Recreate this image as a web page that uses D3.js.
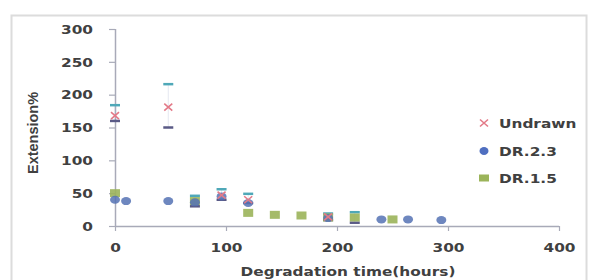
<!DOCTYPE html>
<html>
<head>
<meta charset="UTF-8">
<script src="https://d3js.org/d3.v7.min.js"></script>
<style>
    body { margin: 0; background: #fff; }
    text { font-family: "DejaVu Sans", Verdana, sans-serif; font-weight: bold; fill: #404040; }
</style>
</head>
<body>
<svg width="589" height="280"></svg>
<script>
// values
const xTicks = [0, 100, 200, 300, 400];
const yTicks = [0, 50, 100, 150, 200, 250, 300];

const undrawnX = [0, 48, 96, 120, 192];
const undrawnY = [168, 181, 47, 40, 14];

const dr23X = [0, 10, 48, 72, 96, 120, 192, 240, 264, 294];
const dr23Y = [40, 38, 38, 36, 45, 35, 12, 10, 10, 9];

const dr15X = [0, 72, 120, 144, 168, 192, 216, 250];
const dr15Y = [50, 38, 20, 17, 16, 13, 13, 10];

// error bar caps
const errX  = [0, 48, 72, 96, 120, 192, 216];
const errHi = [184, 216, 46, 56, 49, 19, 21];
const errLo = [160, 150, 30, 40, 35, 9, 5];

const legendNames = ["Undrawn", "DR.2.3", "DR.1.5"];

const svg = d3.select("svg");
const stretch = 1.18;

// outer frame
svg.append("rect")
    .attr("x", 11.5).attr("y", 15.5)
    .attr("width", 575).attr("height", 280)
    .attr("fill", "none").attr("stroke", "#dcdcdc").attr("stroke-width", 2);

const x = d3.scaleLinear().domain([0, 400]).range([115, 559]);
const y = d3.scaleLinear().domain([0, 300]).range([226, 29]);

function widen(sel) {
    sel.each(function () {
        const w = this.getComputedTextLength();
        d3.select(this).attr("textLength", w * stretch).attr("lengthAdjust", "spacingAndGlyphs");
    });
}

const xAxis = svg.append("g")
    .attr("transform", `translate(0,${y(0)})`)
    .call(d3.axisBottom(x).tickValues(xTicks).tickSize(5).tickPadding(12));
const yAxis = svg.append("g")
    .attr("transform", `translate(${x(0)},0)`)
    .call(d3.axisLeft(y).tickValues(yTicks).tickSize(6).tickPadding(16));

[xAxis, yAxis].forEach(a => {
    a.select(".domain").attr("stroke", "#a8aab8").attr("stroke-width", 1.5);
    a.selectAll(".tick line").attr("stroke", "#a8aab8").attr("stroke-width", 1.2);
    a.selectAll(".tick text").attr("font-size", 13).attr("fill", "#404040")
        .style("font-family", "DejaVu Sans").style("font-weight", "bold");
    widen(a.selectAll(".tick text"));
});
yAxis.select(".domain").attr("d", `M0.5,${y(300)}V${y(0)}`);
xAxis.select(".domain").attr("d", `M${x(0)},0.5H${x(400)}`);

// axis titles
const xt = svg.append("text")
    .attr("x", 348).attr("y", 276)
    .attr("text-anchor", "middle")
    .attr("font-size", 13)
    .text("Degradation time(hours)");
widen(xt);

svg.append("text")
    .attr("transform", `translate(38,133) rotate(-90)`)
    .attr("text-anchor", "middle")
    .attr("font-size", 14)
    .style("font-family", "Liberation Sans")
    .attr("textLength", 82).attr("lengthAdjust", "spacingAndGlyphs")
    .text("Extension%");

const plot = svg.append("g");

// error bars
const errs = errX.map((h, i) => ({ h, hi: errHi[i], lo: errLo[i] }));
plot.selectAll(".ebar").data(errs).enter().append("line")
    .attr("x1", d => x(d.h)).attr("x2", d => x(d.h))
    .attr("y1", d => y(d.hi)).attr("y2", d => y(d.lo))
    .attr("stroke", "#b8c0d8").attr("stroke-width", 1).attr("opacity", 0.35);
plot.selectAll(".capHi").data(errs).enter().append("line")
    .attr("x1", d => x(d.h) - 5).attr("x2", d => x(d.h) + 5)
    .attr("y1", d => y(d.hi)).attr("y2", d => y(d.hi))
    .attr("stroke", "#4fa8b8").attr("stroke-width", 2.5);
plot.selectAll(".capLo").data(errs).enter().append("line")
    .attr("x1", d => x(d.h) - 5).attr("x2", d => x(d.h) + 5)
    .attr("y1", d => y(d.lo)).attr("y2", d => y(d.lo))
    .attr("stroke", "#5a5a86").attr("stroke-width", 2.5);

// DR.1.5 squares
const dr15 = dr15X.map((h, i) => ({ h, v: dr15Y[i] }));
plot.selectAll(".sq").data(dr15).enter().append("rect")
    .attr("x", d => x(d.h) - 5).attr("y", d => y(d.v) - 4)
    .attr("width", 10).attr("height", 8)
    .attr("fill", "#9bb45a").attr("opacity", 0.9);

// DR.2.3 circles
const dr23 = dr23X.map((h, i) => ({ h, v: dr23Y[i] }));
plot.selectAll(".ci").data(dr23).enter().append("ellipse")
    .attr("cx", d => x(d.h)).attr("cy", d => y(d.v))
    .attr("rx", 5).attr("ry", 4)
    .attr("fill", "#5572b4").attr("opacity", 0.85);

// Undrawn crosses
const und = undrawnX.map((h, i) => ({ h, v: undrawnY[i] }));
plot.selectAll(".cr").data(und).enter().append("path")
    .attr("transform", d => `translate(${x(d.h)},${y(d.v)})`)
    .attr("d", "M-4,-3.5L4,3.5M-4,3.5L4,-3.5")
    .attr("stroke", "#e37a88").attr("stroke-width", 1.6).attr("fill", "none");

// legend
const leg = svg.append("g");
const rows = [123, 151, 178];
leg.append("path")
    .attr("transform", `translate(484,${rows[0]})`)
    .attr("d", "M-4,-3.5L4,3.5M-4,3.5L4,-3.5")
    .attr("stroke", "#e37a88").attr("stroke-width", 1.6);
leg.append("ellipse").attr("cx", 484).attr("cy", rows[1]).attr("rx", 4.5).attr("ry", 4)
    .attr("fill", "#4f6fc0");
leg.append("rect").attr("x", 479).attr("y", rows[2] - 3.5).attr("width", 10).attr("height", 7)
    .attr("fill", "#9bb45a");
legendNames.forEach((n, i) => {
    const t = leg.append("text")
        .attr("x", 499).attr("y", rows[i] + 5)
        .attr("font-size", 13).attr("fill", "#333")
        .text(n);
    widen(t);
});
</script>
</body>
</html>
